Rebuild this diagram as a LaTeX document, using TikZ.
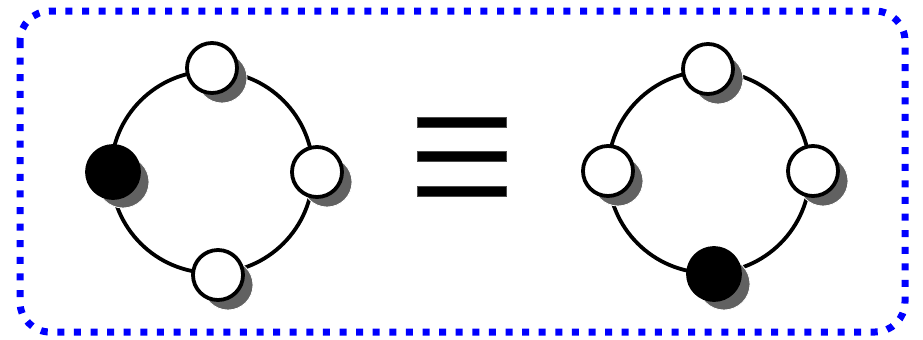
\documentclass[tikz,border=0pt]{standalone}
\usetikzlibrary{shadows}
\begin{document}
\begin{tikzpicture}[x=0.5pt,y=-0.5pt,
  ring/.style={line width=1.9pt},
  bead/.style={circle,draw=black,line width=1.9pt,minimum size=25pt,inner sep=0pt,
    drop shadow={shadow xshift=5pt,shadow yshift=-5pt,fill=black!62,draw=white,line width=0.4pt,opacity=1}},
  white bead/.style={bead,fill=white},
  black bead/.style={bead,fill=black,minimum size=26pt},
  bar/.style={fill=black,draw=black!70,line width=0.3pt},
  frame/.style={draw=blue,line width=3.5pt,dash pattern=on 3.5pt off 4.8pt,rounded corners=15pt}]
\useasboundingbox (0,0) rectangle (923,339);
\draw[frame] (20,11) rectangle (905,332);
% left diagram
\coordinate (lc) at (212,172);
\draw[ring] (lc) circle (101);
\node[white bead] (l1) at (212,68) {};
\node[black bead] (l2) at (113,172) {};
\node[white bead] (l3) at (317,172) {};
\node[white bead] (l4) at (218,275) {};
% equals sign
\path[bar] (417,117) rectangle (506,127);
\path[bar] (417,151) rectangle (506,161);
\path[bar] (417,186) rectangle (506,196);
% right diagram
\coordinate (rc) at (709,172);
\draw[ring] (rc) circle (101);
\node[white bead] (r1) at (708,69) {};
\node[white bead] (r2) at (608,171) {};
\node[white bead] (r3) at (813,171) {};
\node[black bead] (r4) at (714,274) {};
\end{tikzpicture}
\end{document}
